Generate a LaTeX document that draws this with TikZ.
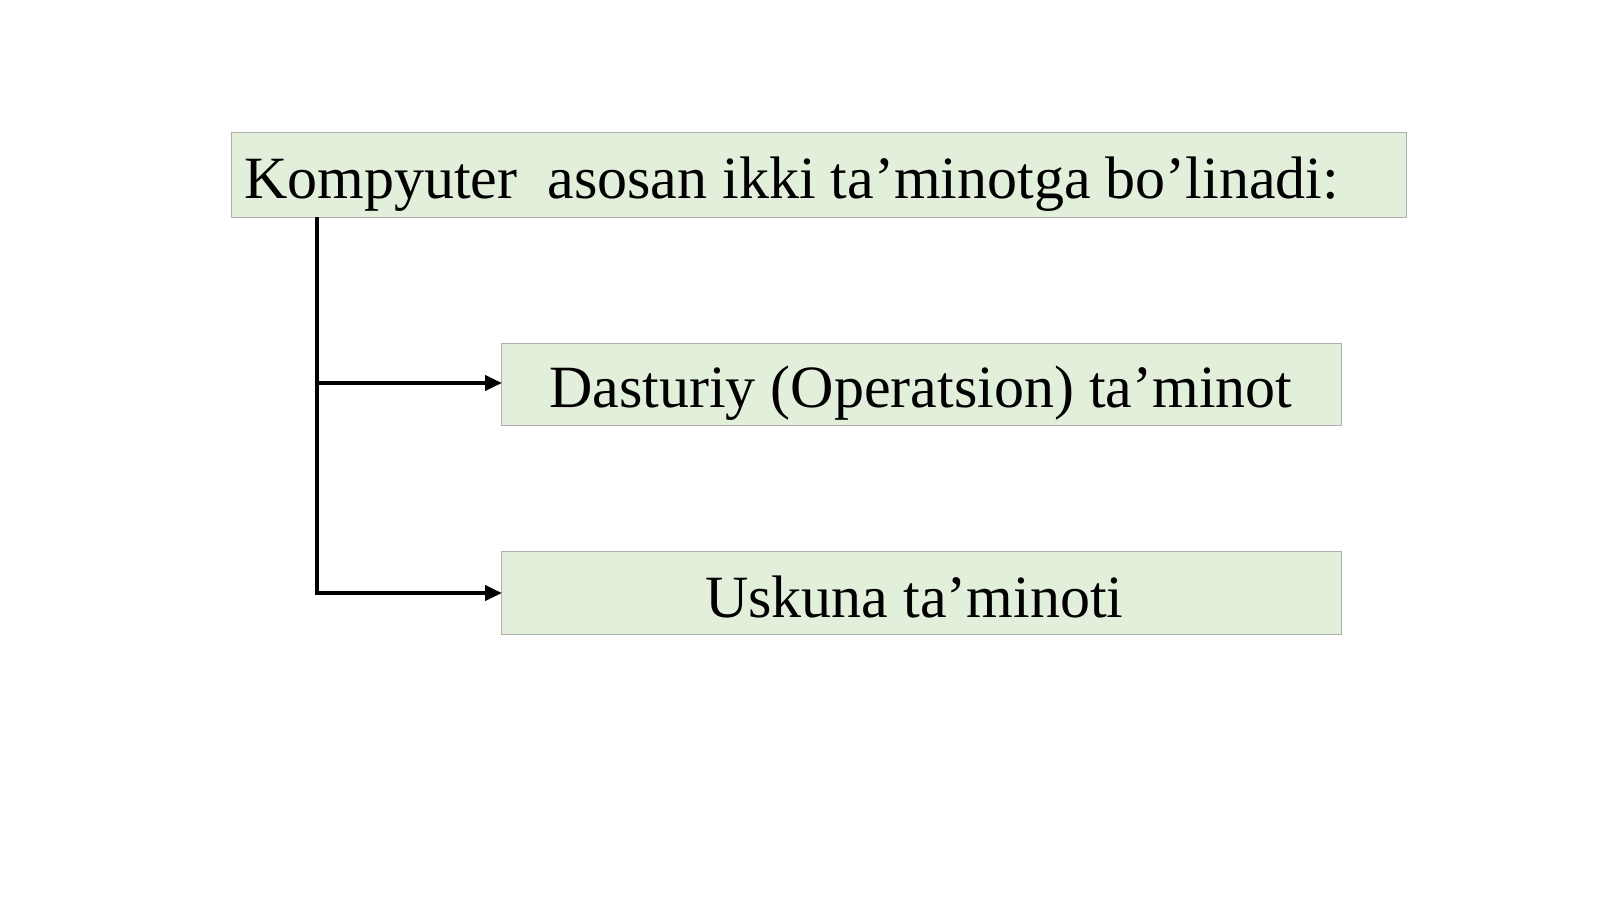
\documentclass[tikz,border=0pt]{standalone}
\usepackage{fontspec}
\setmainfont{Liberation Serif}
\usetikzlibrary{arrows.meta}
\definecolor{boxfill}{RGB}{226,239,218}
\definecolor{boxdraw}{RGB}{175,175,175}
\begin{document}
\begin{tikzpicture}[x=1pt,y=-1pt,
  box/.style={draw=boxdraw,fill=boxfill,line width=1pt},
  lbl/.style={inner sep=0pt,font=\fontsize{60}{68}\selectfont},
  conn/.style={line width=4pt,-{Triangle[length=17pt,width=15pt]}}]
\useasboundingbox (0,0) rectangle (1600,899);
\fill[white] (0,0) rectangle (1600,899);
\draw[box] (231,132) rectangle (1406,217);
\draw[box] (501,343) rectangle (1341,425);
\draw[box] (501,551) rectangle (1341,634);
\node[lbl,anchor=base west] (t1) at (244,198) {Kompyuter\ \ asosan ikki ta’minotga bo’linadi:};
\node[lbl,anchor=base west] (t2) at (549,407) {Dasturiy (Operatsion) ta’minot};
\node[lbl,anchor=base west] (t3) at (705,617) {Uskuna ta’minoti};
\coordinate (top) at (317,217);
\coordinate (j1) at (317,383);
\coordinate (j2) at (317,593);
\coordinate (e1) at (502,383);
\coordinate (e2) at (502,593);
\draw[line width=4pt] (top) -- (j2);
\draw[conn] (j1) -- (e1);
\draw[conn] ([xshift=-2pt]j2) -- (e2);
\end{tikzpicture}
\end{document}
